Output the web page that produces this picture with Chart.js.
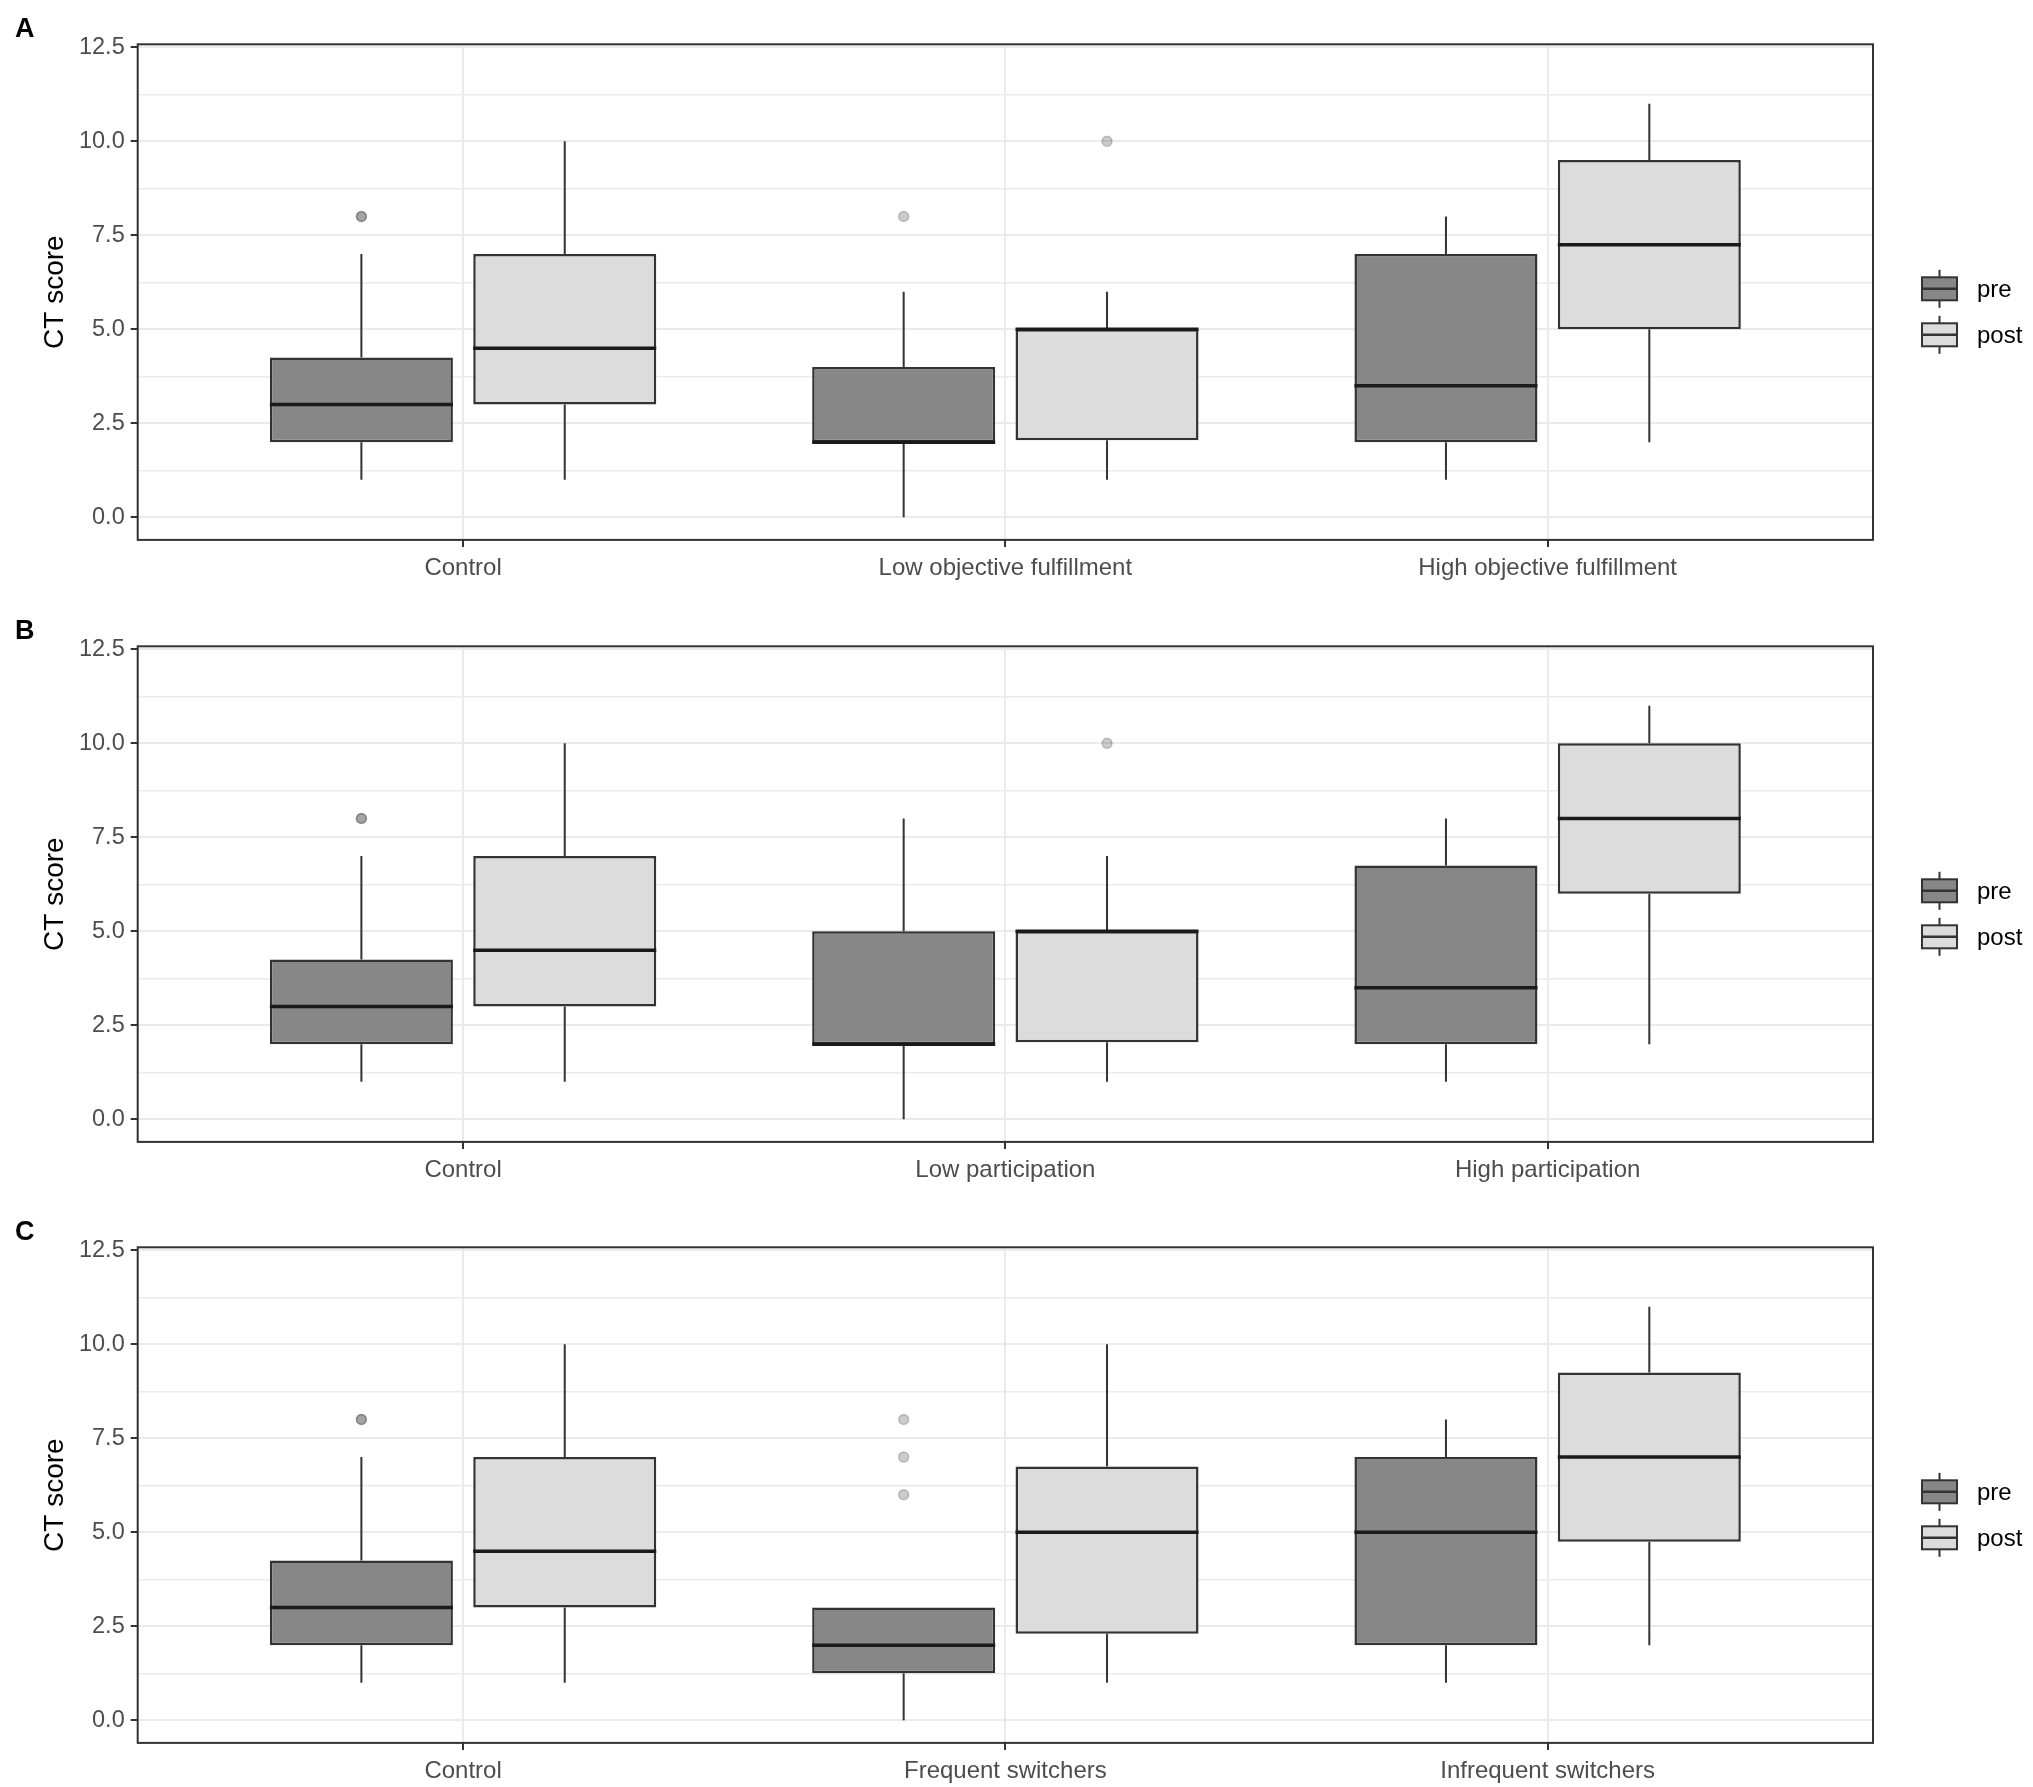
<!DOCTYPE html>
<html>
<head>
<meta charset="utf-8">
<title>CT score boxplots</title>
<script src="https://cdn.jsdelivr.net/npm/chart.js@4.4.1/dist/chart.umd.min.js"></script>
<style>
  html, body { margin: 0; padding: 0; background: #ffffff; overflow: hidden; }
  body { width: 2033px; height: 1787px; position: relative; }
  .panel { position: absolute; left: 0; width: 2033px; height: 584px; }
</style>
</head>
<body>
<div class="panel" style="top:0px"><canvas id="chartA"></canvas></div>
<div class="panel" style="top:601.7px"><canvas id="chartB"></canvas></div>
<div class="panel" style="top:1203.4px"><canvas id="chartC"></canvas></div>
<script>
// group labels per panel
const categoriesA = ["Control", "Low objective fulfillment", "High objective fulfillment"];
const categoriesB = ["Control", "Low participation", "High participation"];
const categoriesC = ["Control", "Frequent switchers", "Infrequent switchers"];
const groupPositions = [1, 2, 3];
const seriesNames = ["pre", "post"];

// y axis ticks (major ones get labels, minor ones only a grid line)
const yMajorTicks = [0, 2.5, 5, 7.5, 10, 12.5];
const yTickLabels = ["0.0", "2.5", "5.0", "7.5", "10.0", "12.5"];
const yMinorTicks = [1.25, 3.75, 6.25, 8.75, 11.25];

// boxes: [lower whisker, Q1, median, Q3, upper whisker] per group
const preA = [[1, 2, 3, 4.25, 7], [0, 2, 2, 4, 6], [1, 2, 3.5, 7, 8]];
const postA = [[1, 3, 4.5, 7, 10], [1, 2.05, 5, 5, 6], [2, 5, 7.25, 9.5, 11]];
const outPreA = [[8, 8], [8], []];
const outPostA = [[], [10], []];

const preB = [[1, 2, 3, 4.25, 7], [0, 2, 2, 5, 8], [1, 2, 3.5, 6.75, 8]];
const postB = [[1, 3, 4.5, 7, 10], [1, 2.05, 5, 5, 7], [2, 6, 8, 10, 11]];
const outPreB = [[8, 8], [], []];
const outPostB = [[], [10], []];

const preC = [[1, 2, 3, 4.25, 7], [0, 1.25, 2, 3, 3], [1, 2, 5, 7, 8]];
const postC = [[1, 3, 4.5, 7, 10], [1, 2.3, 5, 6.75, 10], [2, 4.75, 7, 9.25, 11]];
const outPreC = [[8, 8], [6, 7, 8], []];
const outPostC = [[], [], []];

Chart.defaults.font.family = "'Liberation Sans', Arial, sans-serif";

const isMajor = (v) => yMajorTicks.indexOf(v) >= 0;

// whiskers, medians, outliers, panel border, letter and legend
const boxPlot = {
    id: "boxPlot",
    afterDatasetsDraw(chart) {
        const ctx = chart.ctx;
        const y = chart.scales.y;
        chart.data.datasets.forEach((ds, di) => {
            const meta = chart.getDatasetMeta(di);
            meta.data.forEach((bar, i) => {
                const [lo, q1, med, q3, hi] = ds.stats[i];
                const half = bar.width / 2;
                ctx.save();
                ctx.strokeStyle = "#333333";
                ctx.lineWidth = 2;
                ctx.beginPath();
                ctx.moveTo(bar.x, y.getPixelForValue(q3));
                ctx.lineTo(bar.x, y.getPixelForValue(hi));
                ctx.moveTo(bar.x, y.getPixelForValue(q1));
                ctx.lineTo(bar.x, y.getPixelForValue(lo));
                ctx.stroke();

                const ym = y.getPixelForValue(med);
                ctx.strokeStyle = "#1A1A1A";
                ctx.lineWidth = 3.5;
                ctx.beginPath();
                ctx.moveTo(bar.x - half, ym);
                ctx.lineTo(bar.x + half, ym);
                ctx.stroke();

                ds.outliers[i].forEach((v) => {
                    ctx.beginPath();
                    ctx.arc(bar.x, y.getPixelForValue(v), 5, 0, Math.PI * 2);
                    ctx.fillStyle = "rgba(0,0,0,0.2)";
                    ctx.fill();
                    ctx.strokeStyle = "rgba(0,0,0,0.2)";
                    ctx.lineWidth = 1.5;
                    ctx.stroke();
                });
                ctx.restore();
            });
        });
    },
    afterDraw(chart, args, opts) {
        const ctx = chart.ctx;
        const area = chart.chartArea;
        ctx.save();
        ctx.strokeStyle = "#333333";
        ctx.lineWidth = 2;
        ctx.strokeRect(area.left, area.top, area.right - area.left, area.bottom - area.top);

        // panel letter
        ctx.fillStyle = "#000000";
        ctx.font = "bold 27px 'Liberation Sans', Arial, sans-serif";
        ctx.textAlign = "left";
        ctx.textBaseline = "middle";
        ctx.fillText(opts.letter, 15, area.top - 15);

        // legend
        const lx = area.right + 49;
        chart.data.datasets.forEach((ds, k) => {
            const cy = area.top + 244.5 + k * 46;
            ctx.strokeStyle = "#333333";
            ctx.lineWidth = 2;
            ctx.beginPath();
            ctx.moveTo(lx + 17.5, cy - 19);
            ctx.lineTo(lx + 17.5, cy + 19);
            ctx.stroke();
            ctx.fillStyle = ds.backgroundColor;
            ctx.fillRect(lx, cy - 11.5, 35, 23);
            ctx.strokeRect(lx, cy - 11.5, 35, 23);
            ctx.lineWidth = 2.5;
            ctx.beginPath();
            ctx.moveTo(lx, cy);
            ctx.lineTo(lx + 35, cy);
            ctx.stroke();
            ctx.fillStyle = "#000000";
            ctx.font = "24px 'Liberation Sans', Arial, sans-serif";
            ctx.fillText(ds.label, lx + 55, cy + 1.5);
        });
        ctx.restore();
    }
};

function makePanel(canvasId, letter, categories, pre, post, outPre, outPost) {
    const toBoxes = (stats) => stats.map((s, i) => ({ x: groupPositions[i], y: [s[1], s[3]] }));
    const common = {
        borderColor: "#333333",
        borderWidth: 2.5,
        borderSkipped: false,
        categoryPercentage: 0.75,
        barPercentage: 0.9
    };
    return new Chart(document.getElementById(canvasId), {
        type: "bar",
        data: {
            datasets: [
                Object.assign({ label: seriesNames[0], data: toBoxes(pre), stats: pre, outliers: outPre, backgroundColor: "#878787" }, common),
                Object.assign({ label: seriesNames[1], data: toBoxes(post), stats: post, outliers: outPost, backgroundColor: "#DCDCDC" }, common)
            ]
        },
        options: {
            responsive: true,
            maintainAspectRatio: false,
            animation: false,
            layout: { padding: { top: 44.3, right: 160, bottom: 0, left: 0 } },
            plugins: {
                legend: { display: false },
                tooltip: { enabled: false },
                boxPlot: { letter: letter }
            },
            scales: {
                x: {
                    type: "linear",
                    min: 0.4,
                    max: 3.6,
                    offset: false,
                    afterBuildTicks: (scale) => { scale.ticks = groupPositions.map((v) => ({ value: v })); },
                    afterFit: (scale) => { scale.height = 44.1; },
                    border: { display: false },
                    grid: { offset: false, color: "#EBEBEB", lineWidth: 2, tickColor: "#333333", tickLength: 7, tickWidth: 2 },
                    ticks: {
                        autoSkip: false,
                        maxRotation: 0,
                        padding: 7,
                        color: "#4D4D4D",
                        font: { size: 24 },
                        callback: (v) => {
                            const i = groupPositions.indexOf(v);
                            return i >= 0 ? categories[i] : "";
                        }
                    }
                },
                y: {
                    min: -0.6,
                    max: 12.58,
                    afterBuildTicks: (scale) => {
                        scale.ticks = yMajorTicks.concat(yMinorTicks).sort((a, b) => a - b).map((v) => ({ value: v }));
                    },
                    afterFit: (scale) => { scale.width = 137.7; },
                    border: { display: false },
                    grid: {
                        color: "#EBEBEB",
                        lineWidth: (c) => (c.tick && isMajor(c.tick.value) ? 2 : 1.4),
                        tickColor: (c) => (c.tick && isMajor(c.tick.value) ? "#333333" : "rgba(0,0,0,0)"),
                        tickLength: 7,
                        tickWidth: 2
                    },
                    ticks: {
                        autoSkip: false,
                        padding: 6,
                        color: "#4D4D4D",
                        font: { size: 23.5 },
                        callback: (v) => {
                            const i = yMajorTicks.indexOf(v);
                            return i >= 0 ? yTickLabels[i] : "";
                        }
                    },
                    title: {
                        display: true,
                        text: "CT score",
                        color: "#000000",
                        font: { size: 28 },
                        padding: { top: 38, bottom: 0 }
                    }
                }
            }
        },
        plugins: [boxPlot]
    });
}

makePanel("chartA", "A", categoriesA, preA, postA, outPreA, outPostA);
makePanel("chartB", "B", categoriesB, preB, postB, outPreB, outPostB);
makePanel("chartC", "C", categoriesC, preC, postC, outPreC, outPostC);
</script>
</body>
</html>
